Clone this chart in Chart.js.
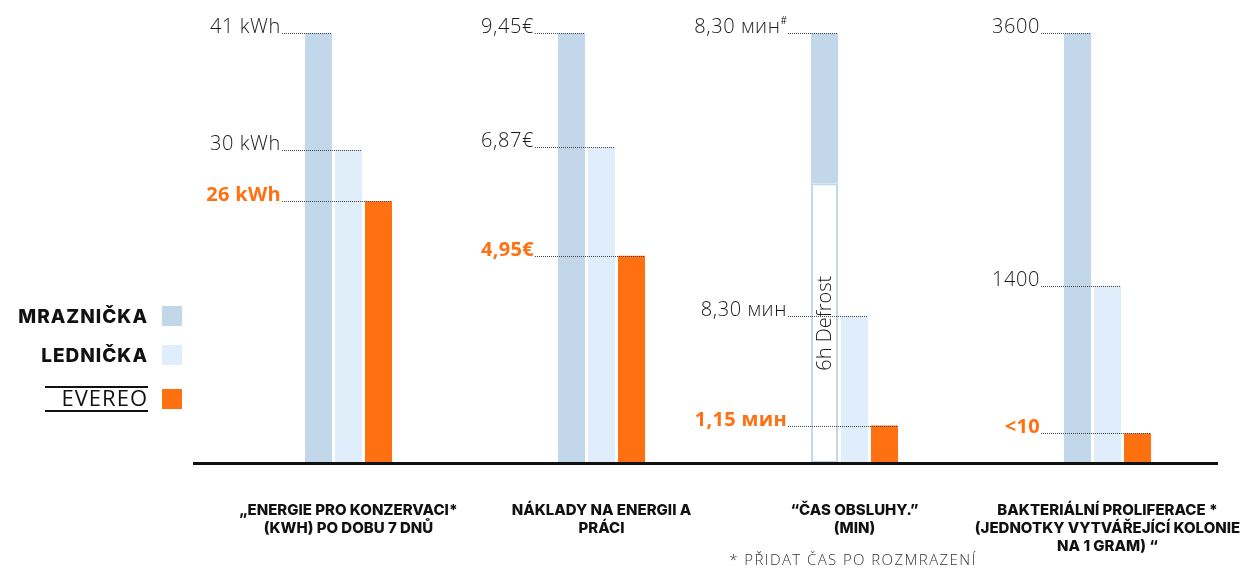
<!DOCTYPE html>
<html lang="cs">
<head>
<meta charset="utf-8">
<script src="https://cdn.jsdelivr.net/npm/chart.js@4.4.1/dist/chart.umd.min.js"></script>
<style>
  html, body { margin: 0; padding: 0; background: #fff; }
</style>
</head>
<body>
<canvas id="graf" width="1241" height="571"></canvas>
<script>
const kategorie = [
  ["„ENERGIE PRO KONZERVACI*", "(KWH) PO DOBU 7 DNŮ"],
  ["NÁKLADY NA ENERGII A", "PRÁCI"],
  ["“ČAS OBSLUHY.”", "(MIN)"],
  ["BAKTERIÁLNÍ PROLIFERACE *", "(JEDNOTKY VYTVÁŘEJÍCÍ KOLONIE", "NA 1 GRAM) “"]
];

// vyska sloupcu v % - kazda skupina ma svoje meritko (max = 100)
const mraznicka = [100, 100, 100, 100];
const lednicka = [72.8, 73.5, 34.2, 41.2];
const evereo = [60.9, 48.2, 8.7, 6.9];
const odmrazeni = [null, null, 65, null]; // bila cast "6h Defrost"

// popisky hodnot
const popiskyMraznicka = ["41 kWh", "9,45€", "8,30 мин", "3600"];
const popiskyLednicka = ["30 kWh", "6,87€", "8,30 мин", "1400"];
const popiskyEvereo = ["26 kWh", "4,95€", "1,15 мин", "<10"];
const indexyMraznicka = ["", "", "#", ""];

const barvaMraz = "#c3d7ea";
const barvaLed = "#e0eefb";
const barvaEvereo = "#ff7010";
const tenkeFonty = "'Open Sans', 'Lato', sans-serif";

const ctx = document.getElementById("graf");

const popiskyPlugin = {
  id: "popisky",
  afterDatasetsDraw(chart) {
    const c = chart.ctx;
    const mOdm = chart.getDatasetMeta(0);
    const mM = chart.getDatasetMeta(1);
    const mL = chart.getDatasetMeta(2);
    const mE = chart.getDatasetMeta(3);
    const y0 = chart.scales.y.getPixelForValue(0);

    // zakladni cara
    c.save();
    c.fillStyle = "#111";
    c.fillRect(chart.chartArea.left - 29, Math.round(y0) - 1, chart.chartArea.right - chart.chartArea.left + 13, 3);
    c.restore();

    kategorie.forEach((k, i) => {
      const prvni = mM.data[i];
      const pravyOkraj = prvni.x - prvni.width / 2 - 24;
      const radky = [
        [mM.data[i], popiskyMraznicka[i], indexyMraznicka[i], false],
        [mL.data[i], popiskyLednicka[i], "", false],
        [mE.data[i], popiskyEvereo[i], "", true]
      ];
      radky.forEach(([bar, text, index, oranz]) => {
        const y = Math.round(bar.y) + 0.5;
        c.save();
        c.setLineDash([1, 1]);
        c.strokeStyle = "#444";
        c.lineWidth = 1;
        c.beginPath();
        c.moveTo(pravyOkraj + 1, y);
        c.lineTo(bar.x + bar.width / 2, y);
        c.stroke();
        c.restore();

        c.save();
        c.textAlign = "right";
        c.textBaseline = "alphabetic";
        let x = pravyOkraj;
        if (index) {
          c.font = "400 10px " + tenkeFonty;
          c.fillStyle = "#222";
          c.fillText(index, x, y - 10);
          x -= c.measureText(index).width;
        }
        if (oranz) {
          c.font = "bold 20px " + tenkeFonty;
          c.letterSpacing = "0.3px";
          c.fillStyle = barvaEvereo;
        } else {
          c.font = "300 20px " + tenkeFonty;
          c.letterSpacing = "0.6px";
          c.fillStyle = "#1a1a1a";
        }
        c.fillText(text, x, y - 1);
        c.restore();
      });

      // text v bile casti
      const odm = mOdm.data[i];
      if (odmrazeni[i] != null && odm) {
        c.save();
        c.translate(odm.x + 1, (odm.y + odm.base) / 2);
        c.rotate(-Math.PI / 2);
        c.font = "300 20px " + tenkeFonty;
        c.fillStyle = "#1a1a1a";
        c.textAlign = "center";
        c.textBaseline = "middle";
        c.fillText("6h Defrost", 0, 0);
        c.restore();
      }
    });
  },
  afterDraw(chart) {
    const c = chart.ctx;
    // legenda vlevo
    const polozky = chart.data.datasets.slice(1);
    const ys = [316, 355, 399];
    polozky.forEach((ds, i) => {
      const y = ys[i];
      c.save();
      c.fillStyle = ds.backgroundColor;
      c.fillRect(162, y - 10, 20, 20);
      c.fillStyle = "#111";
      c.textAlign = "right";
      c.textBaseline = "middle";
      if (ds.label === "EVEREO") {
        c.font = "400 22px " + tenkeFonty;
        c.letterSpacing = "1px";
        c.fillText(ds.label, 148, y + 1);
        c.fillRect(45, y - 13, 103, 2);
        c.fillRect(45, y + 11, 103, 2);
      } else {
        c.font = "800 19px 'Inter', sans-serif";
        c.letterSpacing = "1px";
        c.fillText(ds.label, 148, y + 1);
      }
      c.restore();
    });

    // poznamka
    c.save();
    c.font = "300 15px " + tenkeFonty;
    c.letterSpacing = "1.4px";
    c.fillStyle = "#333";
    c.textAlign = "center";
    c.textBaseline = "middle";
    c.fillText("* PŘIDAT ČAS PO ROZMRAZENÍ", 853, 561);
    c.restore();
  }
};

new Chart(ctx, {
  type: "bar",
  data: {
    labels: kategorie,
    datasets: [
      {
        label: "6h Defrost",
        data: odmrazeni,
        stack: "m",
        backgroundColor: "#ffffff",
        borderColor: barvaMraz,
        borderWidth: 2,
        borderSkipped: false
      },
      {
        label: "MRAZNIČKA",
        data: mraznicka.map((v, i) => v - (odmrazeni[i] || 0)),
        stack: "m",
        backgroundColor: barvaMraz
      },
      {
        label: "LEDNIČKA",
        data: lednicka,
        stack: "l",
        backgroundColor: barvaLed
      },
      {
        label: "EVEREO",
        data: evereo,
        stack: "e",
        backgroundColor: barvaEvereo
      }
    ]
  },
  options: {
    responsive: false,
    animation: false,
    devicePixelRatio: 1,
    categoryPercentage: 0.356,
    barPercentage: 0.9,
    layout: {
      padding: { left: 222, right: 7, top: 33, bottom: 0 }
    },
    plugins: {
      legend: { display: false },
      tooltip: { enabled: false }
    },
    scales: {
      x: {
        stacked: true,
        grid: { display: false, drawTicks: false },
        border: { display: false },
        afterFit: (scale) => {
          // popisky smi presahovat, plocha grafu se nezmensuje
          scale.paddingLeft = 0;
          scale.paddingRight = 0;
          scale.height = 108;
        },
        ticks: {
          autoSkip: false,
          maxRotation: 0,
          padding: 38,
          color: "#111",
          font: { family: "Inter", weight: 800, size: 15, lineHeight: 1.2 }
        }
      },
      y: {
        stacked: true,
        display: false,
        min: 0,
        max: 100
      }
    }
  },
  plugins: [popiskyPlugin]
});
</script>
</body>
</html>
